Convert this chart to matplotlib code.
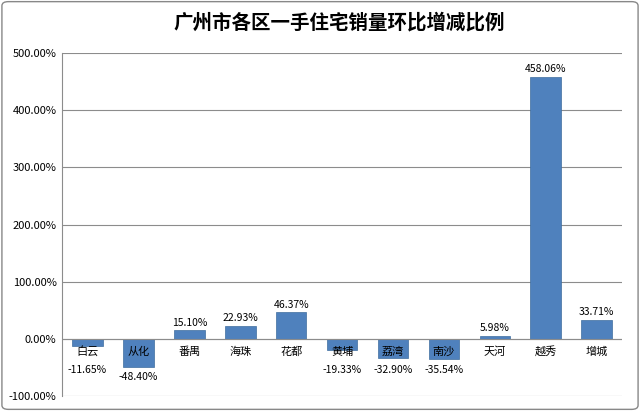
import matplotlib
matplotlib.use("Agg")
import matplotlib.pyplot as plt
from matplotlib.patches import FancyBboxPatch

plt.rcParams["font.family"] = ["Noto Sans CJK SC", "DejaVu Sans"]

categories = ["白云", "从化", "番禺", "海珠", "花都", "黄埔", "荔湾", "南沙", "天河", "越秀", "增城"]
values = [-11.65, -48.40, 15.10, 22.93, 46.37, -19.33, -32.90, -35.54, 5.98, 458.06, 33.71]
yticks = [-100, 0, 100, 200, 300, 400, 500]
title = "广州市各区一手住宅销量环比增减比例"

fig = plt.figure(figsize=(6.4, 4.11), dpi=100)
fig.patches.append(FancyBboxPatch((0.003, 0.004), 0.994, 0.992, boxstyle="round,pad=0,rounding_size=0.01",
                                  transform=fig.transFigure, fill=False, edgecolor="#888888", linewidth=1))
ax = fig.add_axes([0.097, 0.036, 0.875, 0.835])
x = range(len(categories))
ax.bar(x, values, width=0.6, color="#4F81BD", edgecolor="#3F6E9F", linewidth=0.5, zorder=3)
ax.set_ylim(-100, 500)
ax.set_xlim(-0.5, len(categories) - 0.5)
ax.set_yticks(yticks)
ax.set_yticklabels([f"{t:.2f}%" for t in yticks], fontsize=8)
ax.set_xticks([])
ax.grid(axis="y", color="#8c8c8c", linewidth=0.8, zorder=0)
ax.axhline(0, color="#8c8c8c", linewidth=0.8, zorder=4)
for s in ["top", "right"]:
    ax.spines[s].set_visible(False)
ax.spines["bottom"].set_visible(False)
ax.spines["left"].set_color("#8c8c8c")
ax.tick_params(axis="y", length=0, pad=4)
for i, (c, v) in enumerate(zip(categories, values)):
    ax.text(i, -22, c, ha="center", va="center", fontsize=8, zorder=5)
    if v >= 0:
        ax.annotate(f"{v:.2f}%", (i, v), xytext=(0, 2), textcoords="offset points",
                    ha="center", va="bottom", fontsize=7.5)
    else:
        ax.text(i, min(v, -35) - 10, f"{v:.2f}%", ha="center", va="top", fontsize=7.5)
fig.text(0.53, 0.945, title, ha="center", va="center", fontsize=14, fontweight="bold")
fig.savefig("out.png", dpi=100)
